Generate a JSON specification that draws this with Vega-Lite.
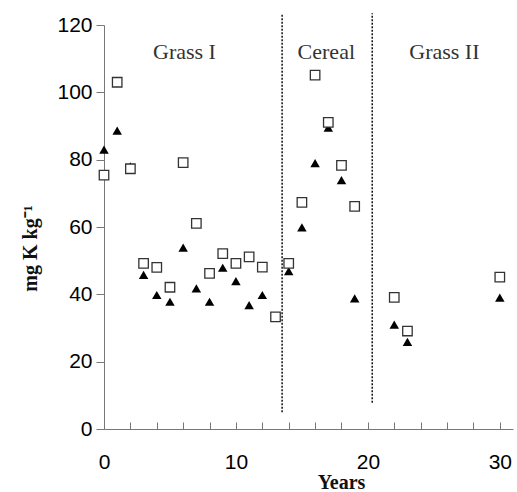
{
  "$schema": "https://vega.github.io/schema/vega-lite/v6.json",
  "width": 409,
  "height": 404,
  "autosize": {"type": "none"},
  "padding": {"left": 104, "top": 25, "right": 4, "bottom": 63},
  "background": "white",
  "config": {"view": {"stroke": null}},
  "datasets": {
    "points": [
      {"x": 0, "y": 83, "series": "B"},
      {"x": 1, "y": 88.6, "series": "B"},
      {"x": 2, "y": 78, "series": "B"},
      {"x": 3, "y": 45.8, "series": "B"},
      {"x": 4, "y": 39.8, "series": "B"},
      {"x": 5, "y": 37.8, "series": "B"},
      {"x": 6, "y": 53.9, "series": "B"},
      {"x": 7, "y": 41.8, "series": "B"},
      {"x": 8, "y": 37.8, "series": "B"},
      {"x": 9, "y": 47.9, "series": "B"},
      {"x": 10, "y": 43.9, "series": "B"},
      {"x": 11, "y": 36.8, "series": "B"},
      {"x": 12, "y": 39.8, "series": "B"},
      {"x": 14, "y": 46.9, "series": "B"},
      {"x": 15, "y": 59.9, "series": "B"},
      {"x": 16, "y": 79, "series": "B"},
      {"x": 17, "y": 89.5, "series": "B"},
      {"x": 18, "y": 73.9, "series": "B"},
      {"x": 19, "y": 38.8, "series": "B"},
      {"x": 22, "y": 31, "series": "B"},
      {"x": 23, "y": 25.9, "series": "B"},
      {"x": 30, "y": 39, "series": "B"},
      {"x": 0, "y": 75.4, "series": "A"},
      {"x": 1, "y": 103, "series": "A"},
      {"x": 2, "y": 77.3, "series": "A"},
      {"x": 3, "y": 49.2, "series": "A"},
      {"x": 4, "y": 48, "series": "A"},
      {"x": 5, "y": 42.1, "series": "A"},
      {"x": 6, "y": 79.1, "series": "A"},
      {"x": 7, "y": 61.1, "series": "A"},
      {"x": 8, "y": 46.2, "series": "A"},
      {"x": 9, "y": 52.1, "series": "A"},
      {"x": 10, "y": 49.2, "series": "A"},
      {"x": 11, "y": 51.1, "series": "A"},
      {"x": 12, "y": 48.1, "series": "A"},
      {"x": 13, "y": 33.3, "series": "A"},
      {"x": 14, "y": 49.2, "series": "A"},
      {"x": 15, "y": 67.3, "series": "A"},
      {"x": 16, "y": 105.1, "series": "A"},
      {"x": 17, "y": 91.1, "series": "A"},
      {"x": 18, "y": 78.3, "series": "A"},
      {"x": 19, "y": 66.1, "series": "A"},
      {"x": 22, "y": 39.1, "series": "A"},
      {"x": 23, "y": 29.1, "series": "A"},
      {"x": 30, "y": 45.1, "series": "A"}
    ],
    "dividers": [
      {"x": 13.5, "y": 5, "y2": 123.5},
      {"x": 20.33, "y": 7.8, "y2": 123.5}
    ],
    "labels": [
      {"x": 6.1, "y": 112, "label": "Grass I"},
      {"x": 16.85, "y": 112, "label": "Cereal"},
      {"x": 25.8, "y": 112, "label": "Grass II"}
    ]
  },
  "encoding": {
    "x": {
      "field": "x", "type": "quantitative",
      "scale": {"domain": [0, 31], "nice": false, "zero": false},
      "axis": {
        "values": [0, 2, 4, 6, 8, 10, 12, 14, 16, 18, 20, 22, 24, 26, 28, 30],
        "labelExpr": "datum.value == 0 || datum.value == 10 || datum.value == 20 || datum.value == 30 ? datum.label : ''",
        "grid": false,
        "tickSize": -7,
        "tickColor": "#777",
        "domainColor": "#777",
        "labelFont": "Liberation Sans",
        "labelFontSize": 21,
        "labelColor": "#000",
        "labelPadding": 29,
        "labelFlush": false,
        "labelOverlap": false,
        "labelBound": false,
        "title": "Years",
        "titleFont": "Liberation Serif",
        "titleFontWeight": "bold",
        "titleFontSize": 20,
        "titleColor": "#111",
        "titleX": 237,
        "titleY": 53,
        "titleBaseline": "middle"
      }
    },
    "y": {
      "field": "y", "type": "quantitative",
      "scale": {"domain": [0, 120], "nice": false},
      "axis": {
        "values": [0, 20, 40, 60, 80, 100, 120],
        "grid": false,
        "tickSize": 8,
        "tickColor": "#777",
        "domainColor": "#777",
        "labelFont": "Liberation Sans",
        "labelFontSize": 21,
        "labelColor": "#000",
        "labelPadding": 4,
        "labelOverlap": false,
        "title": "mg K kg⁻¹",
        "titleFont": "Liberation Serif",
        "titleFontWeight": "bold",
        "titleFontSize": 20,
        "titleColor": "#111",
        "titleX": -74,
        "titleY": 223,
        "titleBaseline": "middle"
      }
    }
  },
  "layer": [
    {
      "data": {"name": "dividers"},
      "mark": {"type": "rule", "color": "#111", "strokeWidth": 1.5, "strokeDash": [2, 1.5]},
      "encoding": {
        "y2": {"field": "y2"}
      }
    },
    {
      "data": {"name": "labels"},
      "mark": {"type": "text", "font": "Liberation Serif", "fontSize": 22, "color": "#333", "baseline": "middle", "align": "center"},
      "encoding": {
        "text": {"field": "label"}
      }
    },
    {
      "data": {"name": "points"},
      "transform": [{"filter": "datum.series == 'B'"}],
      "mark": {"type": "point", "shape": "triangle-up", "filled": true, "color": "#000", "size": 90, "opacity": 1},
      "encoding": {}
    },
    {
      "data": {"name": "points"},
      "transform": [{"filter": "datum.series == 'A'"}],
      "mark": {"type": "point", "shape": "square", "filled": false, "fill": "white", "fillOpacity": 1, "stroke": "#333", "strokeWidth": 1.3, "size": 90, "opacity": 1},
      "encoding": {}
    }
  ]
}
